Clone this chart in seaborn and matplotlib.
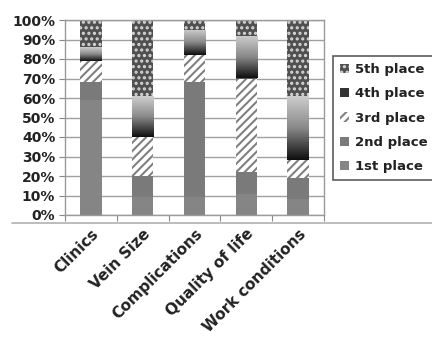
import numpy as np
import pandas as pd
import matplotlib
matplotlib.use("Agg")
import matplotlib.pyplot as plt
from matplotlib.colors import LinearSegmentedColormap
from matplotlib.lines import Line2D
from matplotlib.patches import Patch
import seaborn as sns

categories = ["Clinics", "Vein Size", "Complications", "Quality of life", "Work conditions"]
place_labels = ["1st place", "2nd place", "3rd place", "4th place", "5th place"]
first_place = [59, 9, 9, 11, 8]
second_place = [9, 11, 59, 11, 11]
third_place = [11, 20, 14, 48, 9]
fourth_place = [7, 21, 13, 22, 33]
fifth_place = [14, 39, 5, 8, 39]
y_ticks = [0, 10, 20, 30, 40, 50, 60, 70, 80, 90, 100]
y_tick_labels = [f"{v}%" for v in y_ticks]

sns.set_theme(style="white")
plt.rcParams["font.family"] = ["DejaVu Sans"]
plt.rcParams["hatch.linewidth"] = 1.5

fig = plt.figure(figsize=(4.32, 3.40), dpi=100)
ax = fig.add_axes([65 / 432, 1 - 215 / 340, 259 / 432, 195 / 340])

series = [first_place, second_place, third_place, fourth_place, fifth_place]
styles = [
    dict(color="#858585", edgecolor="#858585", hatch=None),
    dict(color="#7a7a7a", edgecolor="#7a7a7a", hatch=None),
    dict(color="#ffffff", edgecolor="#808080", hatch="////"),
    dict(color="#555555", edgecolor="#555555", hatch=None),
    dict(color="#505050", edgecolor="#d8d8d8", hatch="..."),
]

bottom = np.zeros(len(categories))
containers = []
for vals, st in zip(series, styles):
    df = pd.DataFrame({"category": categories, "share": vals})
    n_before = len(ax.containers)
    sns.barplot(data=df, x="category", y="share", order=categories,
                bottom=bottom.copy(), width=0.41, ax=ax, saturation=1,
                linewidth=0, zorder=2, **st)
    cont = ax.containers[n_before]
    for p in cont:
        p.set_facecolor(st["color"])
        p.set_edgecolor(st["edgecolor"])
        p.set_linewidth(0)
        if st["hatch"]:
            p.set_hatch(st["hatch"])
    containers.append(cont)
    bottom = bottom + np.array(vals, dtype=float)

# vertical dark-to-light shading on the 4th place segments
shade = LinearSegmentedColormap.from_list("shade", ["#0e0e0e", "#8a8a8a", "#cfcfcf"])
grad = np.linspace(0, 1, 256).reshape(-1, 1)
for patch in containers[3]:
    x0, y0 = patch.get_x(), patch.get_y()
    w, h = patch.get_width(), patch.get_height()
    im = ax.imshow(grad, extent=[x0, x0 + w, y0, y0 + h], origin="lower",
                   aspect="auto", cmap=shade, zorder=2.5, interpolation="bilinear")
    im.set_clip_path(patch)

ax.set_xlim(-0.5, len(categories) - 0.5)
ax.set_ylim(0, 100)
ax.set_xlabel("")
ax.set_ylabel("")

ax.set_yticks(y_ticks)
ax.set_yticklabels(y_tick_labels, fontsize=10, fontweight="bold", color="#222222")
ax.set_xticks(range(len(categories)))
ax.set_xticklabels(categories, rotation=45, ha="right", rotation_mode="anchor",
                   fontsize=11, fontweight="bold", color="#222222")
ax.set_xticks(np.arange(-0.5, len(categories), 1.0), minor=True)
ax.tick_params(axis="x", which="major", length=0, pad=8)
ax.tick_params(axis="x", which="minor", length=4, width=0.8, color="#888888",
               direction="out", bottom=True)
ax.tick_params(axis="y", length=4, width=0.8, color="#888888", direction="out", pad=3,
               left=True)

ax.yaxis.grid(True, color="#a0a0a0", linewidth=1.0, zorder=0)
ax.set_axisbelow(True)
for sp in ax.spines.values():
    sp.set_color("#9a9a9a")
    sp.set_linewidth(1.0)

handles = [
    Patch(facecolor="#505050", edgecolor="#d8d8d8", hatch="...", linewidth=0),
    Patch(facecolor="#333333", edgecolor="#333333", linewidth=0),
    Patch(facecolor="white", edgecolor="#808080", hatch="////", linewidth=0),
    Patch(facecolor="#7a7a7a", edgecolor="#7a7a7a", linewidth=0),
    Patch(facecolor="#858585", edgecolor="#858585", linewidth=0),
]
leg = fig.legend(handles, place_labels[::-1], loc="upper left",
                 bbox_to_anchor=(333 / 432, 1 - 56 / 340), bbox_transform=fig.transFigure,
                 frameon=True, fancybox=False, prop={"weight": "bold", "size": 9.5},
                 handlelength=0.7, handleheight=0.7, handletextpad=0.4,
                 labelspacing=0.85, borderpad=0.55, borderaxespad=0)
leg.get_frame().set_edgecolor("#333333")
leg.get_frame().set_linewidth(1.2)
for t in leg.get_texts():
    t.set_color("#222222")

# separator line beneath the plot area
fig.add_artist(Line2D([12 / 432, 1.0], [1 - 223 / 340, 1 - 223 / 340],
                      transform=fig.transFigure, color="#b0b0b0", linewidth=1.2))

fig.savefig("out.png", dpi=100)
